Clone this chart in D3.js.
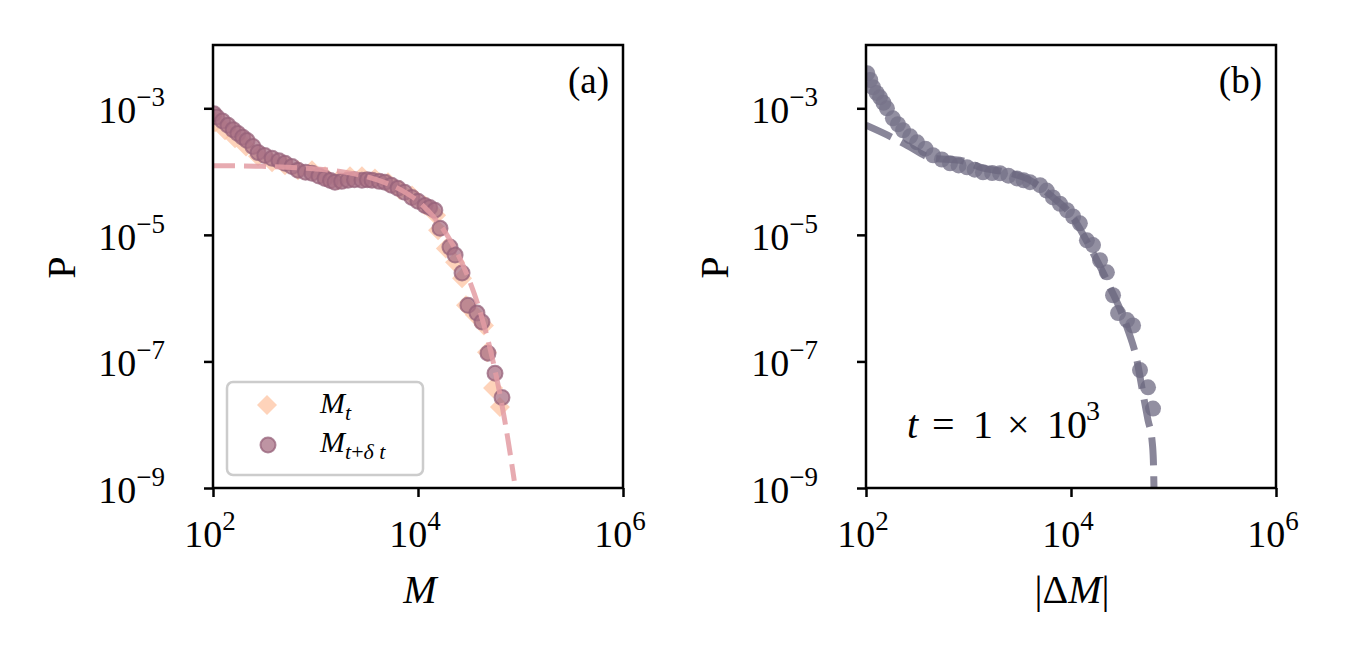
<!DOCTYPE html>
<html>
<head>
<meta charset="utf-8">
<script src="https://cdn.jsdelivr.net/npm/d3@7"></script>
<style>
  body { margin: 0; background: #fff; }
  text { font-family: "Liberation Serif", "DejaVu Serif", serif; fill: #000; }
</style>
</head>
<body>
<div id="chart"></div>
<script>
// panel (a): M_t (diamonds), M_{t+dt} (circles), fit (dashed)
const aDiamM = [105, 131, 164, 210, 275, 377, 504, 675, 924, 1240, 1660, 2170, 2840, 3800, 5100, 6670, 8740, 11700, 15000, 15700, 18700, 23000, 26900, 29400, 36000, 44000, 47100, 54000, 63000];
const aDiamP = [6.0e-4, 4.5e-4, 3.36e-4, 2.5e-4, 1.75e-4, 1.4e-4, 1.26e-4, 1.05e-4, 1.05e-4, 8.4e-5, 7.3e-5, 8.4e-5, 8.4e-5, 7.8e-5, 6.8e-5, 5.1e-5, 4.2e-5, 2.9e-5, 2.05e-5, 1.18e-5, 6.1e-6, 3.7e-6, 2.06e-6, 7.7e-7, 5.4e-7, 3.7e-7, 1.4e-7, 3.8e-8, 1.9e-8];

const aCircM = [102, 109, 124, 140, 157, 175, 195, 215, 245, 275, 320, 377, 440, 504, 590, 675, 800, 924, 1080, 1240, 1400, 1550, 1800, 2075, 2400, 2840, 3200, 3560, 4200, 4760, 5500, 6380, 7400, 8740, 10000, 11700, 13000, 14600, 16400, 20500, 23000, 26900, 30700, 37600, 42100, 48200, 56400, 66000];
const aCircP = [8.2e-4, 7.3e-4, 6.3e-4, 5.4e-4, 4.6e-4, 4.0e-4, 3.5e-4, 3.1e-4, 2.5e-4, 2.0e-4, 1.8e-4, 1.62e-4, 1.48e-4, 1.35e-4, 1.2e-4, 1.05e-4, 9.8e-5, 9.4e-5, 8.5e-5, 7.8e-5, 7.2e-5, 6.8e-5, 7.0e-5, 7.3e-5, 7.4e-5, 7.3e-5, 7.4e-5, 7.3e-5, 7.0e-5, 6.8e-5, 6.1e-5, 5.45e-5, 4.7e-5, 3.9e-5, 3.4e-5, 2.9e-5, 2.7e-5, 2.45e-5, 1.27e-5, 6.4e-6, 4.8e-6, 2.5e-6, 7.7e-7, 5.8e-7, 4.2e-7, 1.35e-7, 6.5e-8, 2.7e-8];

const aFitM = [100, 300, 1000, 2000, 4000, 7000, 10000, 15000, 20000, 30000, 40000, 50000, 60000, 70000, 80000, 87000];
const aFitP = [1.24e-4, 1.21e-4, 1.10e-4, 9.7e-5, 7.4e-5, 5.0e-5, 3.4e-5, 1.73e-5, 8.9e-6, 2.38e-6, 6.4e-7, 1.7e-7, 4.5e-8, 1.2e-8, 3.2e-9, 1.3e-9];

// panel (b): |dM| (circles) and fit (dashed)
const bCircM = [103, 110, 117, 127, 137, 148, 160, 183, 205, 230, 270, 315, 380, 451, 550, 660, 800, 967, 1150, 1385, 1700, 2030, 2450, 2970, 3450, 3980, 4990, 5800, 6670, 7800, 9130, 10500, 12200, 14300, 16400, 19200, 22400, 25700, 28800, 35200, 40300, 47100, 56400, 63100];
const bCircP = [3.57e-3, 2.8e-3, 2.15e-3, 1.75e-3, 1.49e-3, 1.22e-3, 1.0e-3, 6.95e-4, 5.6e-4, 4.5e-4, 3.6e-4, 2.9e-4, 2.3e-4, 1.81e-4, 1.55e-4, 1.35e-4, 1.25e-4, 1.17e-4, 1.07e-4, 9.75e-5, 9.5e-5, 9.4e-5, 8.6e-5, 7.8e-5, 7.3e-5, 6.8e-5, 6.1e-5, 5.0e-5, 3.9e-5, 3.1e-5, 2.45e-5, 1.95e-5, 1.52e-5, 8.2e-6, 6.9e-6, 3.97e-6, 2.56e-6, 1.11e-6, 5.8e-7, 4.5e-7, 3.7e-7, 7.3e-8, 3.9e-8, 1.8e-8];

const bFitM = [100, 179, 251, 451, 826, 1385, 2380, 3980, 6670, 9770, 15300, 24000, 35200, 44000, 50300, 56400, 61700, 63600, 64500];
const bFitP = [5.4e-4, 3.48e-4, 2.6e-4, 1.62e-4, 1.51e-4, 1.13e-4, 9.75e-5, 7.3e-5, 3.9e-5, 2.19e-5, 6.4e-6, 1.49e-6, 3.47e-7, 1.04e-7, 3.15e-8, 1.18e-8, 5.7e-9, 2.75e-9, 1.0e-9];

const xTicks = [1e2, 1e4, 1e6];
const xTickExp = ["2", "4", "6"];
const yTicks = [1e-3, 1e-5, 1e-7, 1e-9];
const yTickExp = ["\u22123", "\u22125", "\u22127", "\u22129"];

const zip = (xs, ys) => xs.map((x, i) => ({ x, y: ys[i] }));

const svg = d3.select("#chart")
  .append("svg")
  .attr("width", 1350)
  .attr("height", 660);

const W = 410, H = 443;

const makePanel = (left, top, id) => {
  const g = svg.append("g").attr("transform", `translate(${left},${top})`);
  const x = d3.scaleLog().domain([1e2, 1e6]).range([0, W]);
  const y = d3.scaleLog().domain([1e-9, 1e-2]).range([H, 0]);

  g.append("clipPath").attr("id", id)
    .append("rect").attr("width", W).attr("height", H);

  // x axis
  const xa = g.append("g").attr("transform", `translate(0,${H})`)
    .call(d3.axisBottom(x).tickValues(xTicks).tickSize(9).tickFormat(""));
  xa.select(".domain").remove();
  xa.selectAll("line").attr("stroke", "#000").attr("stroke-width", 2.5);
  xTicks.forEach((t, i) => {
    const tx = g.append("text").attr("x", x(t) - 3).attr("y", H + 59)
      .attr("text-anchor", "middle").style("font-size", "38px");
    tx.append("tspan").text("10");
    tx.append("tspan").attr("dy", -17).style("font-size", "27px").text(xTickExp[i]);
  });

  // y axis
  const ya = g.append("g")
    .call(d3.axisLeft(y).tickValues(yTicks).tickSize(9).tickFormat(""));
  ya.select(".domain").remove();
  ya.selectAll("line").attr("stroke", "#000").attr("stroke-width", 2.5);
  yTicks.forEach((t, i) => {
    const tx = g.append("text").attr("x", -48).attr("y", y(t) + 15)
      .attr("text-anchor", "end").style("font-size", "38px");
    tx.append("tspan").text("10");
    tx.append("tspan").attr("dy", -17).style("font-size", "27px").text(yTickExp[i]);
  });

  g.append("text")
    .attr("transform", `translate(-138,${H / 2 + 1}) rotate(-90)`)
    .attr("text-anchor", "middle").style("font-size", "40px").text("P");

  return { g, x, y };
};

const line = (x, y) => d3.line().x(d => x(d.x)).y(d => y(d.y));

// ---------- panel (a)
const A = makePanel(213, 45, "clipA");
const diamond = d3.symbol().type(d3.symbolSquare).size(200);

A.g.append("g").attr("clip-path", "url(#clipA)")
  .selectAll("path")
  .data(zip(aDiamM, aDiamP))
  .join("path")
  .attr("d", diamond)
  .attr("transform", d => `translate(${A.x(d.x)},${A.y(d.y)}) rotate(45)`)
  .attr("fill", "#fdc4a3")
  .attr("fill-opacity", 0.75);

A.g.append("g").attr("clip-path", "url(#clipA)")
  .selectAll("circle")
  .data(zip(aCircM, aCircP))
  .join("circle")
  .attr("cx", d => A.x(d.x))
  .attr("cy", d => A.y(d.y))
  .attr("r", 7.5)
  .attr("fill", "#a87084")
  .attr("fill-opacity", 0.75)
  .attr("stroke", "#95627a")
  .attr("stroke-opacity", 0.75)
  .attr("stroke-width", 2);

A.g.append("path")
  .datum(zip(aFitM, aFitP))
  .attr("clip-path", "url(#clipA)")
  .attr("d", line(A.x, A.y).curve(d3.curveMonotoneX))
  .attr("fill", "none")
  .attr("stroke", "#e39ca3")
  .attr("stroke-opacity", 0.85)
  .attr("stroke-width", 5)
  .attr("stroke-dasharray", "22,9");

A.g.append("rect").attr("width", W).attr("height", H)
  .attr("fill", "none").attr("stroke", "#000").attr("stroke-width", 2.5);

A.g.append("text").attr("x", W - 14).attr("y", 48)
  .attr("text-anchor", "end").style("font-size", "37px").text("(a)");

A.g.append("text").attr("x", W / 2 + 2).attr("y", H + 115)
  .attr("text-anchor", "middle").style("font-size", "40px")
  .style("font-style", "italic").text("M");

// legend
const lg = A.g.append("g").attr("transform", "translate(14,337)");
lg.append("rect").attr("width", 196).attr("height", 93).attr("rx", 6)
  .attr("fill", "#fff").attr("fill-opacity", 0.8)
  .attr("stroke", "#cccccc").attr("stroke-width", 2.5);
lg.append("path").attr("d", diamond)
  .attr("transform", "translate(40,23) rotate(45)")
  .attr("fill", "#fdc4a3").attr("fill-opacity", 0.75);
lg.append("circle").attr("cx", 41).attr("cy", 63).attr("r", 7.5)
  .attr("fill", "#a87084").attr("fill-opacity", 0.75)
  .attr("stroke", "#95627a").attr("stroke-opacity", 0.75).attr("stroke-width", 2);
const l1 = lg.append("text").attr("x", 93).attr("y", 31).style("font-size", "30px").style("font-style", "italic");
l1.append("tspan").text("M");
l1.append("tspan").attr("dy", 7).style("font-size", "22px").text("t");
const l2 = lg.append("text").attr("x", 93).attr("y", 70).style("font-size", "30px").style("font-style", "italic");
l2.append("tspan").text("M");
l2.append("tspan").attr("dy", 7).style("font-size", "22px").text("t");
l2.append("tspan").style("font-size", "22px").style("font-style", "normal").text("+");
l2.append("tspan").style("font-size", "22px").text("\u03b4 t");

// ---------- panel (b)
const B = makePanel(866, 45, "clipB");

B.g.append("g").attr("clip-path", "url(#clipB)")
  .selectAll("circle")
  .data(zip(bCircM, bCircP))
  .join("circle")
  .attr("cx", d => B.x(d.x))
  .attr("cy", d => B.y(d.y))
  .attr("r", 8)
  .attr("fill", "#77738a")
  .attr("fill-opacity", 0.8);

B.g.append("path")
  .datum(zip(bFitM, bFitP))
  .attr("clip-path", "url(#clipB)")
  .attr("d", line(B.x, B.y).curve(d3.curveMonotoneX))
  .attr("fill", "none")
  .attr("stroke", "#6c6880")
  .attr("stroke-opacity", 0.8)
  .attr("stroke-width", 7)
  .attr("stroke-dasharray", "28,11");

B.g.append("rect").attr("width", W).attr("height", H)
  .attr("fill", "none").attr("stroke", "#000").attr("stroke-width", 2.5);

B.g.append("text").attr("x", W - 14).attr("y", 48)
  .attr("text-anchor", "end").style("font-size", "37px").text("(b)");

// annotation, pieces placed as in the reference math layout
const ann = B.g.append("g").attr("transform", "translate(0,393)").style("font-size", "40px");
ann.append("text").attr("x", 41).style("font-style", "italic").text("t");
ann.append("text").attr("x", 66).text("=");
ann.append("text").attr("x", 107).text("1");
ann.append("text").attr("x", 141).text("\u00d7");
ann.append("text").attr("x", 181).text("10");
ann.append("text").attr("x", 220).attr("y", -18).style("font-size", "28px").text("3");

const bl = B.g.append("text").attr("x", W / 2 + 1).attr("y", H + 115)
  .attr("text-anchor", "middle").style("font-size", "40px");
bl.append("tspan").text("|\u0394");
bl.append("tspan").style("font-style", "italic").text("M");
bl.append("tspan").text("|");
</script>
</body>
</html>
